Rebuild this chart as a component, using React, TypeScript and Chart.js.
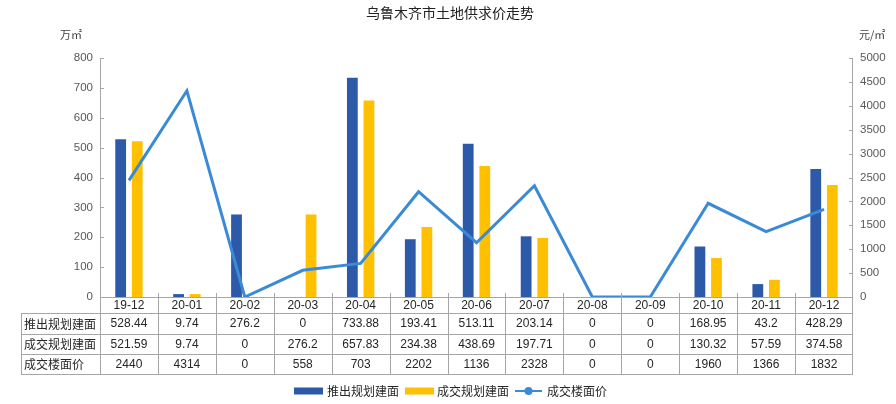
import React, { useEffect, useRef } from "react";
import { Chart, registerables } from "chart.js";

Chart.register(...registerables);

const categories = ["19-12", "20-01", "20-02", "20-03", "20-04", "20-05", "20-06", "20-07", "20-08", "20-09", "20-10", "20-11", "20-12"];
const launchedArea = [528.44, 9.74, 276.2, 0, 733.88, 193.41, 513.11, 203.14, 0, 0, 168.95, 43.2, 428.29];
const tradedArea = [521.59, 9.74, 0, 276.2, 657.83, 234.38, 438.69, 197.71, 0, 0, 130.32, 57.59, 374.58];
const floorPrice = [2440, 4314, 0, 558, 703, 2202, 1136, 2328, 0, 0, 1960, 1366, 1832];
const seriesNames = ["推出规划建面", "成交规划建面", "成交楼面价"];
const titleText = "乌鲁木齐市土地供求价走势";
const leftUnit = "万㎡";
const rightUnit = "元/㎡";

const BLUE = "#2C5AA8";
const YELLOW = "#FFC000";
const LINE = "#3A8AD6";
const GRID = "#a6a6a6";
const CJK = "'Noto Sans CJK SC', 'Noto Sans', sans-serif";
const NUM = "'Liberation Sans', Arial, sans-serif";

const fmt = (v: number) => String(v);

const decorPlugin = {
  id: "decor",
  afterDraw(chart: any) {
    const ctx = chart.ctx as CanvasRenderingContext2D;
    const area = chart.chartArea;
    const x = chart.scales.x;
    const y = chart.scales.y;
    const y1 = chart.scales.y1;
    const left = area.left;
    const right = area.right;
    const bottom = area.bottom;
    const n = categories.length;
    const colW = (right - left) / n;
    const tableLeft = 21;
    const rowTops = [bottom + 16, bottom + 37, bottom + 57, bottom + 77];

    ctx.save();
    // Title
    ctx.fillStyle = "#222";
    ctx.font = `14px ${CJK}`;
    ctx.textAlign = "center";
    ctx.textBaseline = "middle";
    ctx.fillText(titleText, 450, 13);

    // Unit labels
    ctx.font = `11px ${CJK}`;
    ctx.fillStyle = "#404040";
    ctx.textAlign = "left";
    ctx.fillText(leftUnit, 60, 35);
    ctx.fillText(rightUnit, 859, 35);

    // Axis lines
    ctx.strokeStyle = GRID;
    ctx.lineWidth = 1;
    ctx.beginPath();
    ctx.moveTo(left + 0.5, area.top);
    ctx.lineTo(left + 0.5, rowTops[3]);
    ctx.moveTo(right - 0.5, area.top);
    ctx.lineTo(right - 0.5, rowTops[3]);
    ctx.moveTo(left, bottom + 0.5);
    ctx.lineTo(right, bottom + 0.5);
    // y ticks inward
    for (let v = 0; v <= 800; v += 100) {
      const py = Math.round(y.getPixelForValue(v)) + 0.5;
      ctx.moveTo(left, py);
      ctx.lineTo(left + 4, py);
    }
    for (let v = 0; v <= 5000; v += 500) {
      const py = Math.round(y1.getPixelForValue(v)) + 0.5;
      ctx.moveTo(right, py);
      ctx.lineTo(right - 4, py);
    }
    // column separators (with tick upward)
    for (let i = 1; i < n; i++) {
      const px = Math.round(left + i * colW) + 0.5;
      ctx.moveTo(px, bottom - 4);
      ctx.lineTo(px, rowTops[3]);
    }
    // table horizontal lines
    for (const ry of rowTops) {
      ctx.moveTo(tableLeft, ry + 0.5);
      ctx.lineTo(right, ry + 0.5);
    }
    ctx.moveTo(tableLeft + 0.5, rowTops[0]);
    ctx.lineTo(tableLeft + 0.5, rowTops[3]);
    ctx.stroke();

    // category labels
    ctx.fillStyle = "#262626";
    ctx.font = `12px ${NUM}`;
    ctx.textAlign = "center";
    ctx.textBaseline = "middle";
    for (let i = 0; i < n; i++) {
      const cx = x.getPixelForValue(i);
      ctx.fillText(categories[i], cx, bottom + 9);
    }
    // table rows
    const rows = [launchedArea, tradedArea, floorPrice];
    for (let r = 0; r < 3; r++) {
      const cy = (rowTops[r] + rowTops[r + 1]) / 2 + 0.5;
      ctx.font = `12px ${CJK}`;
      ctx.textAlign = "left";
      ctx.fillText(seriesNames[r], tableLeft + 3, cy);
      ctx.font = `12px ${NUM}`;
      ctx.textAlign = "center";
      for (let i = 0; i < n; i++) {
        ctx.fillText(fmt(rows[r][i]), x.getPixelForValue(i), cy);
      }
    }

    // legend
    const ly = 391;
    ctx.font = `12px ${CJK}`;
    ctx.textAlign = "left";
    ctx.fillStyle = BLUE;
    ctx.fillRect(294, ly - 3.5, 29, 7);
    ctx.fillStyle = "#262626";
    ctx.fillText(seriesNames[0], 327, ly);
    ctx.fillStyle = YELLOW;
    ctx.fillRect(405, ly - 3.5, 29, 7);
    ctx.fillStyle = "#262626";
    ctx.fillText(seriesNames[1], 437, ly);
    ctx.strokeStyle = LINE;
    ctx.lineWidth = 2;
    ctx.beginPath();
    ctx.moveTo(515, ly);
    ctx.lineTo(542, ly);
    ctx.stroke();
    ctx.fillStyle = LINE;
    ctx.beginPath();
    ctx.arc(528.5, ly, 4, 0, Math.PI * 2);
    ctx.fill();
    ctx.fillStyle = "#262626";
    ctx.fillText(seriesNames[2], 547, ly);
    ctx.restore();
  },
};

export default function App() {
  const ref = useRef<HTMLCanvasElement | null>(null);
  useEffect(() => {
    if (!ref.current) return;
    const chart = new Chart(ref.current, {
      type: "bar",
      data: {
        labels: categories,
        datasets: [
          {
            type: "line",
            label: seriesNames[2],
            data: floorPrice,
            yAxisID: "y1",
            borderColor: LINE,
            backgroundColor: LINE,
            borderWidth: 3,
            pointRadius: 0,
            tension: 0,
            order: 0,
          } as any,
          {
            type: "bar",
            label: seriesNames[0],
            data: launchedArea,
            yAxisID: "y",
            backgroundColor: BLUE,
            barPercentage: 0.65,
            categoryPercentage: 0.573,
            order: 1,
          },
          {
            type: "bar",
            label: seriesNames[1],
            data: tradedArea,
            yAxisID: "y",
            backgroundColor: YELLOW,
            barPercentage: 0.65,
            categoryPercentage: 0.573,
            order: 2,
          },
        ],
      },
      options: {
        animation: false,
        responsive: true,
        maintainAspectRatio: false,
        layout: { padding: { top: 58, left: 0, right: 0, bottom: 0 } },
        plugins: { legend: { display: false }, tooltip: { enabled: false }, title: { display: false } },
        scales: {
          x: {
            grid: { display: false, drawTicks: false },
            border: { display: false },
            ticks: { display: false },
            afterFit: (s: any) => { s.height = 107; },
          },
          y: {
            position: "left",
            min: 0,
            max: 800,
            grid: { display: false, drawTicks: false },
            border: { display: false },
            ticks: { stepSize: 100, padding: 7, color: "#595959", font: { size: 11.5, family: NUM }, callback: (v: any) => String(v) },
            afterFit: (s: any) => { s.width = 100; },
          },
          y1: {
            position: "right",
            min: 0,
            max: 5000,
            grid: { display: false, drawTicks: false },
            border: { display: false },
            ticks: { stepSize: 500, padding: 7, color: "#595959", font: { size: 11.5, family: NUM }, callback: (v: any) => String(v) },
            afterFit: (s: any) => { s.width = 43; },
          },
        },
      },
      plugins: [decorPlugin],
    } as any);
    return () => chart.destroy();
  }, []);
  return (
    <div style={{ position: "fixed", left: 0, top: 0, width: 896, height: 404, background: "#fff" }}>
      <canvas ref={ref} />
    </div>
  );
}
